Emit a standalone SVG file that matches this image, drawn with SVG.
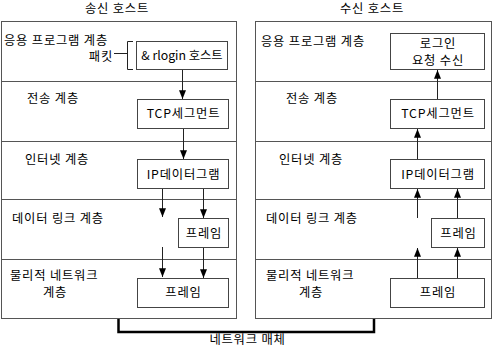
<svg xmlns="http://www.w3.org/2000/svg" width="494" height="347" viewBox="0 0 494 347">
<style>
text{font-family:"Noto Sans CJK KR","Liberation Sans",sans-serif;font-size:12.3px;letter-spacing:0.8px;fill:#000;dominant-baseline:central}
.c{text-anchor:middle}
.t{letter-spacing:0}
.panel{fill:#fff;stroke:#555;stroke-width:1}
.div{stroke:#555;stroke-width:1}
.box{fill:#fff;stroke:#444;stroke-width:1}
.ln{stroke:#222;stroke-width:1;fill:none}
</style>
<defs>
<marker id="ah" viewBox="0 0 10 8" refX="10" refY="4" markerWidth="9" markerHeight="7" markerUnits="userSpaceOnUse" orient="auto">
<path d="M0,0 L10,4 L0,8 Z" fill="#000"/>
</marker>
</defs>
<g id="send-host">
<rect class="panel" x="1.5" y="21.5" width="235" height="297"/>
<line class="div" x1="1.5" y1="81.5" x2="236.5" y2="81.5"/>
<line class="div" x1="1.5" y1="141.5" x2="236.5" y2="141.5"/>
<line class="div" x1="1.5" y1="199.5" x2="236.5" y2="199.5"/>
<line class="div" x1="1.5" y1="259.5" x2="236.5" y2="259.5"/>
<text x="117" y="8" class="c">송신 호스트</text>
<text x="4" y="40">응용 프로그램 계층</text>
<text x="113" y="56" text-anchor="end">패킷</text>
<text x="27" y="98">전송 계층</text>
<text x="25" y="159">인터넷 계층</text>
<text x="12" y="218">데이터 링크 계층</text>
<text x="10" y="275">물리적 네트워크</text>
<text x="55" y="292" class="c">계층</text>
</g>
<g id="s-rlogin">
<rect class="box" x="136.5" y="41.5" width="91" height="28"/>
<text x="182" y="55" class="c t">&amp; rlogin 호스트</text>
</g>
<g id="s-tcp">
<rect class="box" x="137.5" y="99.5" width="91" height="29"/>
<text x="183.5" y="113" class="c">TCP세그먼트</text>
</g>
<g id="s-ip">
<rect class="box" x="137.5" y="159.5" width="91" height="29"/>
<text x="183.5" y="174" class="c">IP데이터그램</text>
</g>
<g id="s-frame-dl">
<rect class="box" x="178.5" y="218.5" width="50" height="29"/>
<text x="204" y="233" class="c">프레임</text>
</g>
<g id="s-frame-ph">
<rect class="box" x="137.5" y="278.5" width="91" height="29"/>
<text x="183.5" y="292" class="c">프레임</text>
</g>
<g id="recv-host">
<rect class="panel" x="255.5" y="21.5" width="236" height="297"/>
<line class="div" x1="255.5" y1="81.5" x2="491.5" y2="81.5"/>
<line class="div" x1="255.5" y1="141.5" x2="491.5" y2="141.5"/>
<line class="div" x1="255.5" y1="199.5" x2="491.5" y2="199.5"/>
<line class="div" x1="255.5" y1="259.5" x2="491.5" y2="259.5"/>
<text x="372" y="8" class="c">수신 호스트</text>
<text x="261" y="41">응용 프로그램 계층</text>
<text x="286" y="98">전송 계층</text>
<text x="279" y="159">인터넷 계층</text>
<text x="266" y="218">데이터 링크 계층</text>
<text x="266" y="275">물리적 네트워크</text>
<text x="311" y="292" class="c">계층</text>
</g>
<g id="r-login">
<rect class="box" x="390.5" y="33.5" width="94" height="36"/>
<text x="438" y="43" class="c">로그인</text>
<text x="438" y="59.5" class="c">요청 수신</text>
</g>
<g id="r-tcp">
<rect class="box" x="390.5" y="99.5" width="94" height="29"/>
<text x="438" y="113" class="c">TCP세그먼트</text>
</g>
<g id="r-ip">
<rect class="box" x="390.5" y="159.5" width="94" height="29"/>
<text x="438" y="174" class="c">IP데이터그램</text>
</g>
<g id="r-frame-dl">
<rect class="box" x="431.5" y="218.5" width="53" height="29"/>
<text x="458.5" y="233" class="c">프레임</text>
</g>
<g id="r-frame-ph">
<rect class="box" x="390.5" y="278.5" width="94" height="29"/>
<text x="438" y="292" class="c">프레임</text>
</g>
<g id="connectors">
<path class="ln" d="M114,53.5 H127.5 M133,41.5 H127.5 V69.5 H133"/>
<line class="ln" x1="182.5" y1="70" x2="182.5" y2="99" marker-end="url(#ah)"/>
<line class="ln" x1="183.5" y1="129" x2="183.5" y2="159" marker-end="url(#ah)"/>
<line class="ln" x1="162.5" y1="189" x2="162.5" y2="217" marker-end="url(#ah)"/>
<line class="ln" x1="203.5" y1="189" x2="203.5" y2="218" marker-end="url(#ah)"/>
<line class="ln" x1="162.5" y1="247" x2="162.5" y2="277" marker-end="url(#ah)"/>
<line class="ln" x1="203.5" y1="248" x2="203.5" y2="278" marker-end="url(#ah)"/>
<line class="ln" x1="437.5" y1="99" x2="437.5" y2="70" marker-end="url(#ah)"/>
<line class="ln" x1="417.5" y1="159" x2="417.5" y2="129" marker-end="url(#ah)"/>
<line class="ln" x1="417.5" y1="218" x2="417.5" y2="189" marker-end="url(#ah)"/>
<line class="ln" x1="457.5" y1="218" x2="457.5" y2="189" marker-end="url(#ah)"/>
<line class="ln" x1="417.5" y1="278" x2="417.5" y2="248" marker-end="url(#ah)"/>
<line class="ln" x1="457.5" y1="278" x2="457.5" y2="248" marker-end="url(#ah)"/>
<path d="M118.5,319 V332 H374 V319" fill="none" stroke="#000" stroke-width="2.5"/>
<text x="247.5" y="338.5" class="c">네트워크 매체</text>
</g>
</svg>
